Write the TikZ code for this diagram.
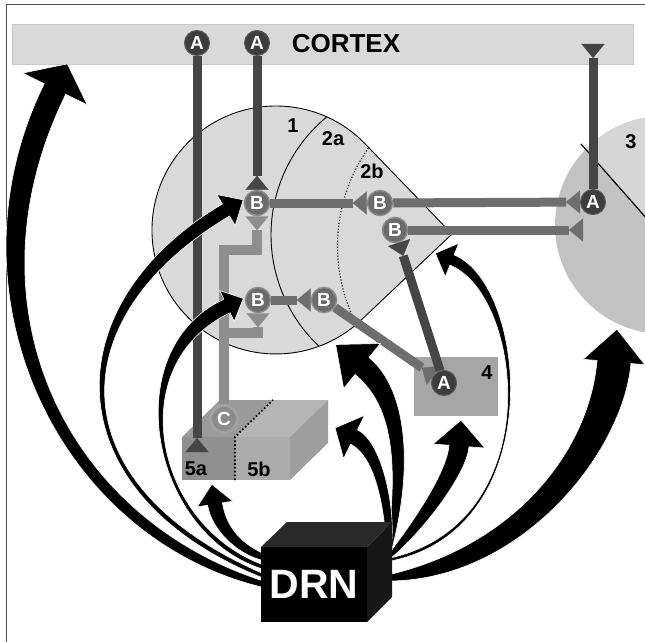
\documentclass[tikz,border=0pt]{standalone}
\usepackage{fontspec}
\setmainfont{Liberation Sans}
\usetikzlibrary{calc,arrows.meta}

\definecolor{bandgray}{HTML}{D9D9D9}
\definecolor{bandedge}{HTML}{C8C8C8}
\definecolor{regiongray}{HTML}{D9D9D9}
\definecolor{thalLight}{HTML}{D6D6D6}
\definecolor{thalDark}{HTML}{C2C2C2}
\definecolor{boxfour}{HTML}{A6A6A6}
\definecolor{fiveAfront}{HTML}{8F8F8F}
\definecolor{fiveBfront}{HTML}{ABABAB}
\definecolor{fiveAtop}{HTML}{9B9B9B}
\definecolor{fiveBtop}{HTML}{B5B5B5}
\definecolor{fiveside}{HTML}{9E9E9E}
\definecolor{cellA}{HTML}{3D3D3D}
\definecolor{cellAring}{HTML}{575757}
\definecolor{cellB}{HTML}{6B6B6B}
\definecolor{cellBring}{HTML}{8A8A8A}
\definecolor{cellC}{HTML}{8C8C8C}
\definecolor{cellCring}{HTML}{A2A2A2}
\definecolor{axA}{HTML}{454545}
\definecolor{axB}{HTML}{6E6E6E}
\definecolor{axC}{HTML}{8E8E8E}
\definecolor{drnTop}{HTML}{2A2A2A}
\definecolor{drnSide}{HTML}{171717}

% Tapered projection arrow.
% #1 tail, #2 first control, #3 second control, #4 head base,
% #5 half width at tail, #6 half width at first control,
% #7 half width at head base, #8 half width of the head, #9 head length
\newcommand\drnarrow[9]{%
  \fill[black, draw=white, line width=0.6pt]
    ($(#1)!#5!-90:(#2)$)
    .. controls ($(#2)!#6!90:(#1)$) and ($(#3)!#7!-90:(#4)$) ..
    ($(#4)!#7!90:(#3)$) -- ($(#4)!#8!90:(#3)$) -- ($(#4)!-#9!(#3)$)
    -- ($(#4)!#8!-90:(#3)$) -- ($(#4)!#7!-90:(#3)$)
    .. controls ($(#3)!#7!90:(#4)$) and ($(#2)!#6!-90:(#1)$) ..
    ($(#1)!#5!90:(#2)$) -- cycle;}

\begin{document}
\begin{tikzpicture}[x=1pt, y=-1pt, line join=miter,
  lbl/.style={font=\bfseries\fontsize{20}{20}\selectfont, inner sep=0pt},
  cell/.style={circle, inner sep=0pt, text=white, font=\bfseries\fontsize{19}{19}\selectfont},
  somaA/.style={cell, fill=cellA, draw=cellAring, line width=1pt, minimum size=25pt},
  somaB/.style={cell, fill=cellB, draw=cellBring, line width=1.5pt, minimum size=25pt},
  somaC/.style={cell, fill=cellC, draw=cellCring, line width=3pt, minimum size=27pt},
  syn/.style={line width=9pt, -{Triangle[reversed, width=23pt, length=14pt, line width=0.1pt]}},
]
\useasboundingbox (0,0) rectangle (645,642);

% outer frame
\draw[line width=1pt, black!70] (6.5,4.5) rectangle (660,660);

% cortex band
\fill[bandgray, draw=bandedge, line width=0.8pt] (12,24) rectangle (633,64);
\node[font=\bfseries\fontsize{26}{26}\selectfont] (cortex) at (346,44) {CORTEX};

% region 3 (disc cut by the frame)
\fill[thalDark] (664,225) circle[radius=109];
\begin{scope}
  \clip (664,225) circle[radius=109];
  \fill[thalLight] (560,120) -- (800,391) -- (800,50) -- (560,50) -- cycle;
\end{scope}
\draw[line width=1.2pt] (581,144) -- (700,279);
\node[lbl] (lab3) at (631,142) {3};

% teardrop region with subdivisions 1, 2a, 2b
\fill[regiongray] (365.3,144) arc[start angle=-43.9, end angle=-313.5, radius=124] -- (452,234) -- cycle;
\begin{scope}
  \clip (365.3,144) arc[start angle=-43.9, end angle=-313.5, radius=124] -- (452,234) -- cycle;
  \draw[line width=0.9pt] ([shift={(236:153)}]424,235) arc[start angle=236, end angle=125, radius=153];
  \draw[line width=1.1pt, dash pattern=on 1.1pt off 1.9pt] ([shift={(225:171)}]508.5,246) arc[start angle=225, end angle=150, radius=171];
\end{scope}
\draw[line width=0.9pt] (365.3,144) arc[start angle=-43.9, end angle=-313.5, radius=124] -- (452,234) -- cycle;
\node[lbl] (lab1) at (293,126) {1};
\node[lbl] (lab2a) at (333,139) {2a};
\node[lbl] (lab2b) at (372,171) {2b};

% region 4
\fill[boxfour] (414,357) rectangle (498,416);
\node[lbl] (lab4) at (487,373) {4};

% region 5 block
\fill[fiveAfront] (182,437) rectangle (235,480);
\fill[fiveBfront] (235,437) rectangle (290,480);
\fill[fiveAtop] (182,437) -- (220,400) -- (273,400) -- (235,437) -- cycle;
\fill[fiveBtop] (235,437) -- (273,400) -- (328,400) -- (290,437) -- cycle;
\fill[fiveside] (290,437) -- (328,400) -- (328,443) -- (290,480) -- cycle;
\draw[line width=1.8pt, dash pattern=on 1.6pt off 2.2pt] (235,480) -- (235,437) -- (273,400);
\node[lbl] (lab5a) at (196,469) {5a};
\node[lbl] (lab5b) at (259,469) {5b};

% cells
\node[somaA] (Actx1) at (197,43) {A};
\node[somaA] (Actx2) at (257,43) {A};
\node[somaA] (Athal) at (593,202) {A};
\node[somaA] (Afour) at (444,383) {A};
\node[somaB] (B1) at (257,203) {B};
\node[somaB] (B2) at (380,203) {B};
\node[somaB] (B3) at (395,230) {B};
\node[somaB] (B4) at (258,300) {B};
\node[somaB] (B5) at (324,300) {B};
\node[somaC] (C) at (224,419) {C};

% free ends and bends of the axons
\coordinate (endFiveA) at (197,452);
\coordinate (endCtx) at (593,44);
\coordinate (endThal) at (583,230);
\coordinate (cA1) at (224,250);
\coordinate (cA2) at (257,250);
\coordinate (cB1) at (224,333);
\coordinate (cB2) at (258,333);

% axons with synaptic endings
\draw[syn, axA] (Actx1) -- (endFiveA);
\draw[syn, axA] (Actx2) -- (B1);
\draw[syn, axA] (Athal) -- (endCtx);
\draw[syn, axB] (B1) -- (B2);
\draw[syn, axB] (B2) -- (Athal);
\draw[syn, axB] (B3) -- (endThal);
\draw[syn, axB] (B4) -- (B5);
\draw[syn, axB] (B5) -- (Afour);
\draw[syn, axA] (Afour) -- (B3);
\draw[syn, axC, line width=10pt] (C) -- (cA1) -- (cA2) -- (B1);
\draw[syn, axC, line width=10pt] (cB1) -- (cB2) -- (B4);

% DRN projections
\coordinate (tL1) at (266,585);
\coordinate (tL2) at (266,577);
\coordinate (tL3) at (266,568);
\coordinate (tL4) at (266,558);
\coordinate (tR1) at (388,552);
\coordinate (tR2) at (388,556);
\coordinate (tR3) at (388,558);
\coordinate (tR4) at (388,560);
\coordinate (tR5) at (388,578);
\coordinate (hCtx) at (55,89);
\coordinate (hB1) at (226,210);
\coordinate (hB4) at (227,306);
\coordinate (hFiveA) at (215,504);
\coordinate (hFiveB) at (354,437);
\coordinate (hOne) at (362,366);
\coordinate (hFour) at (459,446);
\coordinate (hTwo) at (452,260);
\coordinate (hThree) at (614,362);

\drnarrow{tL1}{60,529}{-48,298}{hCtx}{3pt}{11pt}{12pt}{36pt}{28pt}
\drnarrow{tL2}{55,491}{54,312}{hB1}{2pt}{5pt}{7pt}{18pt}{20pt}
\drnarrow{tL3}{152,532}{118,357}{hB4}{2pt}{5pt}{7.5pt}{17pt}{18pt}
\drnarrow{tL4}{240,550}{219,529}{hFiveA}{3pt}{6pt}{7.5pt}{18pt}{20pt}
\drnarrow{tR5}{518,563}{606,452}{hThree}{3pt}{18pt}{17pt}{31pt}{33pt}
\drnarrow{tR4}{550,528}{526,290}{hTwo}{1.5pt}{3.5pt}{5.5pt}{18pt}{18pt}
\drnarrow{tR3}{420,525}{457,472}{hFour}{2pt}{7pt}{10pt}{26pt}{26pt}
\drnarrow{tR2}{407,465}{400,397}{hOne}{2pt}{8pt}{11pt}{29pt}{34pt}
\drnarrow{tR1}{392,520}{381,450}{hFiveB}{2pt}{6pt}{8pt}{24pt}{21pt}

% DRN block
\fill[drnTop] (261,547) -- (287,522) -- (392,522) -- (367,547) -- cycle;
\fill[drnSide] (367,547) -- (392,522) -- (392,597) -- (367,622) -- cycle;
\node[fill=black, minimum width=106pt, minimum height=75pt, inner sep=0pt,
      text=white, font=\bfseries\fontsize{41}{41}\selectfont] (drn) at (314,584.5) {DRN};
\end{tikzpicture}
\end{document}
